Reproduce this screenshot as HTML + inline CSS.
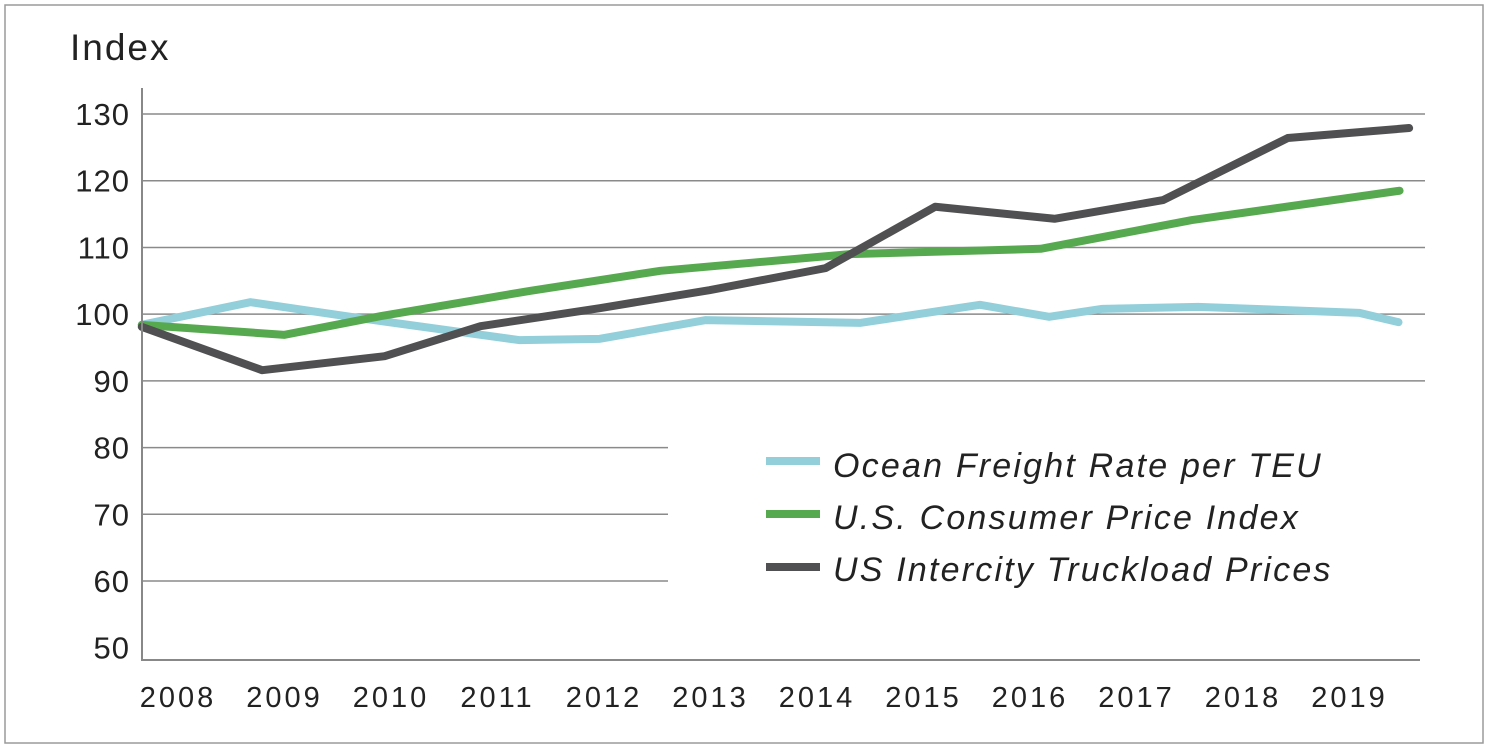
<!DOCTYPE html>
<html><head><meta charset="utf-8"><style>
body{margin:0;background:#fff;}
svg{display:block;font-family:"Liberation Sans",sans-serif;}
</style></head><body>
<svg id="chart" width="1490" height="753">
<rect x="5" y="5" width="1478" height="738" fill="none" stroke="#9a9a9a" stroke-width="1.5"/>
<text x="70" y="60" font-size="37" letter-spacing="2" fill="#222">Index</text>
<g id="grid"></g><g id="lines"></g><g id="labels"></g>
<line x1="142" y1="88" x2="142" y2="661" stroke="#888" stroke-width="2"/>
<line x1="141" y1="660" x2="1420" y2="660" stroke="#888" stroke-width="2"/>
<g>
<line x1="766" y1="461" x2="820" y2="461" stroke="#92cfda" stroke-width="8"/>
<text x="833" y="477" font-size="34" letter-spacing="2.2" font-style="italic" fill="#222">Ocean Freight Rate per TEU</text>
<line x1="766" y1="514" x2="820" y2="514" stroke="#57a94f" stroke-width="8"/>
<text x="833" y="529" font-size="34" letter-spacing="2.2" font-style="italic" fill="#222">U.S. Consumer Price Index</text>
<line x1="766" y1="567" x2="820" y2="567" stroke="#505052" stroke-width="8"/>
<text x="833" y="581" font-size="34" letter-spacing="2.2" font-style="italic" fill="#222">US Intercity Truckload Prices</text>
</g>
</svg>
<script>
const yTicks=[130,120,110,100,90,80,70,60,50];
const xTicks=[2008,2009,2010,2011,2012,2013,2014,2015,2016,2017,2018,2019];
const oceanYears=[2007.66,2008.68,2009.71,2011.21,2011.96,2012.95,2014.41,2015.53,2016.18,2016.68,2017.58,2019.09,2019.46];
const oceanValues=[98.4,101.8,99.4,96.1,96.3,99.1,98.7,101.4,99.6,100.8,101.1,100.2,98.8];
const cpiYears=[2007.66,2009.0,2009.9,2011.31,2012.53,2014.31,2016.10,2017.52,2019.47];
const cpiValues=[98.4,96.9,99.7,103.5,106.5,109.0,109.8,114.1,118.5];
const truckYears=[2007.66,2008.79,2009.94,2010.84,2011.96,2012.99,2014.08,2015.11,2016.23,2017.25,2018.42,2019.56];
const truckValues=[98.1,91.6,93.7,98.2,100.9,103.6,106.9,116.1,114.3,117.1,126.4,127.9];
const NS="http://www.w3.org/2000/svg";
const X=yr=>178+(yr-2008)*106.5;
const Y=v=>581-(v-60)*6.671;
const grid=document.getElementById('grid'),labels=document.getElementById('labels'),lines=document.getElementById('lines');
yTicks.forEach(v=>{
  if(v>50){
    const l=document.createElementNS(NS,'line');
    l.setAttribute('x1',142);l.setAttribute('x2',v>=90?1425:668);
    l.setAttribute('y1',Y(v));l.setAttribute('y2',Y(v));
    l.setAttribute('stroke','#8a8a8a');l.setAttribute('stroke-width','1.5');
    
    
    grid.appendChild(l);
  }
  const t=document.createElementNS(NS,'text');
  t.setAttribute('x',130);t.setAttribute('y',Y(v)+11);t.setAttribute('text-anchor','end');
  t.setAttribute('font-size','31');t.setAttribute('letter-spacing','1');t.setAttribute('fill','#222');t.textContent=v;
  
  
  labels.appendChild(t);
});
xTicks.forEach(yr=>{
  const t=document.createElementNS(NS,'text');
  t.setAttribute('x',X(yr));t.setAttribute('y',707);t.setAttribute('text-anchor','middle');
  t.setAttribute('font-size','29');t.setAttribute('letter-spacing','3');t.setAttribute('fill','#222');t.textContent=yr;
  
  
  labels.appendChild(t);
});
function series(xs,vs,color,name){
  const p=document.createElementNS(NS,'polyline');
  p.setAttribute('points',xs.map((x,i)=>X(x)+','+Y(vs[i])).join(' '));
  p.setAttribute('fill','none');p.setAttribute('stroke',color);p.setAttribute('stroke-width','8');
  p.setAttribute('stroke-linejoin','round');p.setAttribute('stroke-linecap','round');
  
  
  lines.appendChild(p);
}
series(oceanYears,oceanValues,'#92cfda','ocean-freight-line');
series(cpiYears,cpiValues,'#57a94f','cpi-line');
series(truckYears,truckValues,'#505052','truckload-line');
</script>
</body></html>
